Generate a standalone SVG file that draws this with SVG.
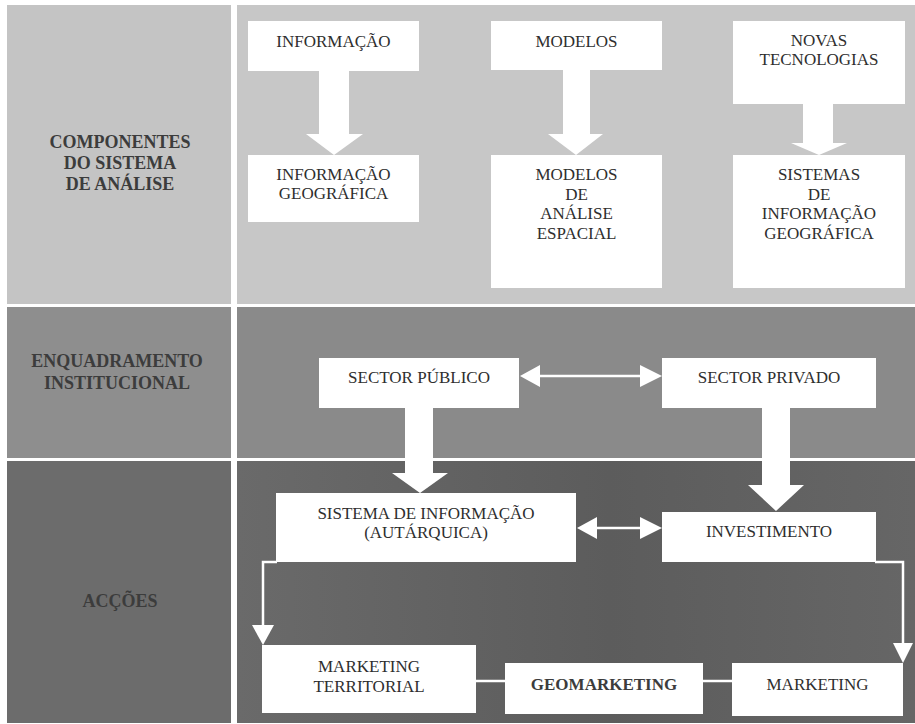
<svg xmlns="http://www.w3.org/2000/svg" width="915" height="724" viewBox="0 0 915 724">
<defs>
<style>
.t{font-family:"Liberation Serif","Times New Roman",serif;font-size:17px;fill:#2e2e2e;text-anchor:middle}
.b{font-family:"Liberation Serif","Times New Roman",serif;font-size:18px;font-weight:bold;fill:#3c3c3c;text-anchor:middle}
.box{fill:#ffffff}
.arr{fill:#ffffff}
.ln{fill:none;stroke:#ffffff;stroke-width:2.5}
</style>
<linearGradient id="g3" x1="0" y1="0" x2="1" y2="0">
<stop offset="0" stop-color="#6a6a6a"/>
<stop offset="0.55" stop-color="#5c5c5c"/>
<stop offset="1" stop-color="#666666"/>
</linearGradient>
</defs>
<rect x="0" y="0" width="915" height="724" fill="#ffffff"/>
<g id="background">
<rect x="7" y="5" width="224" height="299" fill="#c4c4c4"/>
<rect x="237" y="5" width="678" height="299" fill="#c7c7c7"/>
<rect x="7" y="307" width="224" height="151" fill="#8e8e8e"/>
<rect x="237" y="307" width="678" height="151" fill="#8a8a8a"/>
<rect x="7" y="461" width="224" height="262" fill="#6c6c6c"/>
<rect x="237" y="461" width="678" height="262" fill="url(#g3)"/>
</g>
<g id="row-labels">
<text class="b" x="120" y="148">COMPONENTES</text>
<text class="b" x="120" y="169">DO SISTEMA</text>
<text class="b" x="120" y="190">DE ANÁLISE</text>
<text class="b" x="117" y="367">ENQUADRAMENTO</text>
<text class="b" x="117" y="389">INSTITUCIONAL</text>
<text class="b" x="120" y="607">ACÇÕES</text>
</g>
<g id="connectors">
<polygon class="arr" points="319,70 349,70 349,134 363,134 334,155 306,134 319,134"/>
<polygon class="arr" points="563,69 590,69 590,134 603,134 576,155 548,134 563,134"/>
<polygon class="arr" points="803,103 833,103 833,143 847,143 819,155 791,143 803,143"/>
<polygon class="arr" points="405,407 433,407 433,473 448,473 420,493 392,473 405,473"/>
<polygon class="arr" points="762,407 790,407 790,485 804,485 776,511 748,485 762,485"/>
<line class="ln" x1="535" y1="376" x2="645" y2="376"/>
<polygon class="arr" points="520,376 540,365 540,387"/>
<polygon class="arr" points="662,376 640,365 640,387"/>
<line class="ln" x1="590" y1="528" x2="645" y2="528"/>
<polygon class="arr" points="577,528 597,517 597,539"/>
<polygon class="arr" points="662,528 640,517 640,539"/>
<polyline class="ln" points="277,562 263,562 263,627"/>
<polygon class="arr" points="252,625 274,625 263,645"/>
<polyline class="ln" points="875,562 903,562 903,645"/>
<polygon class="arr" points="893,643 913,643 903,663"/>
<line class="ln" x1="475" y1="681" x2="506" y2="681"/>
<line class="ln" x1="702" y1="681" x2="733" y2="681"/>
</g>
<g id="informacao">
<rect class="box" x="248" y="21" width="171" height="50"/>
<text class="t" x="333.5" y="47">INFORMAÇÃO</text>
</g>
<g id="informacao-geografica">
<rect class="box" x="248" y="155" width="171" height="67"/>
<text class="t" x="333.5" y="180">INFORMAÇÃO</text>
<text class="t" x="333.5" y="199">GEOGRÁFICA</text>
</g>
<g id="modelos">
<rect class="box" x="491" y="21" width="171" height="49"/>
<text class="t" x="576.5" y="47">MODELOS</text>
</g>
<g id="modelos-analise">
<rect class="box" x="491" y="155" width="171" height="133"/>
<text class="t" x="576.5" y="180">MODELOS</text>
<text class="t" x="576.5" y="199.5">DE</text>
<text class="t" x="576.5" y="219">ANÁLISE</text>
<text class="t" x="576.5" y="238.5">ESPACIAL</text>
</g>
<g id="novas-tecnologias">
<rect class="box" x="733" y="21" width="172" height="83"/>
<text class="t" x="819" y="46">NOVAS</text>
<text class="t" x="819" y="65">TECNOLOGIAS</text>
</g>
<g id="sig">
<rect class="box" x="733" y="155" width="172" height="133"/>
<text class="t" x="819" y="180">SISTEMAS</text>
<text class="t" x="819" y="199.5">DE</text>
<text class="t" x="819" y="219">INFORMAÇÃO</text>
<text class="t" x="819" y="238.5">GEOGRÁFICA</text>
</g>
<g id="sector-publico">
<rect class="box" x="319" y="358" width="200" height="50"/>
<text class="t" x="419" y="383">SECTOR PÚBLICO</text>
</g>
<g id="sector-privado">
<rect class="box" x="662" y="358" width="214" height="50"/>
<text class="t" x="769" y="383">SECTOR PRIVADO</text>
</g>
<g id="sistema-informacao">
<rect class="box" x="276" y="493" width="300" height="69"/>
<text class="t" x="426" y="519">SISTEMA DE INFORMAÇÃO</text>
<text class="t" x="426" y="538">(AUTÁRQUICA)</text>
</g>
<g id="investimento">
<rect class="box" x="662" y="512" width="214" height="50"/>
<text class="t" x="769" y="537">INVESTIMENTO</text>
</g>
<g id="marketing-territorial">
<rect class="box" x="262" y="645" width="214" height="68"/>
<text class="t" x="369" y="672">MARKETING</text>
<text class="t" x="369" y="692">TERRITORIAL</text>
</g>
<g id="geomarketing">
<rect class="box" x="505" y="663" width="198" height="51"/>
<text class="b" x="604" y="690" style="font-size:17px">GEOMARKETING</text>
</g>
<g id="marketing">
<rect class="box" x="732" y="663" width="171" height="53"/>
<text class="t" x="817.5" y="690">MARKETING</text>
</g>
</svg>
